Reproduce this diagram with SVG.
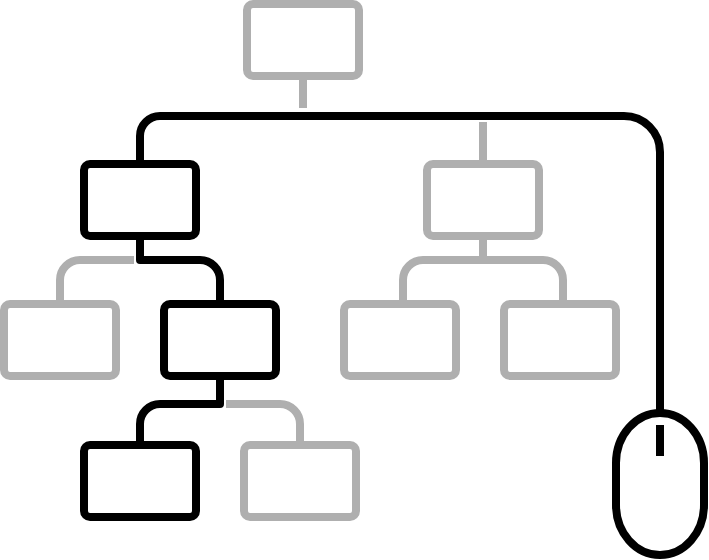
<svg xmlns="http://www.w3.org/2000/svg" width="709" height="560" viewBox="0 0 709 560">
<style>
.g{fill:#fff;stroke:#afafaf;stroke-width:8}
.k{fill:#fff;stroke:#000;stroke-width:8}
.lg{fill:none;stroke:#afafaf;stroke-width:8}
.lk{fill:none;stroke:#000;stroke-width:8}
rect{rx:6px;ry:6px}
</style>
<rect width="709" height="560" fill="#fff" style="rx:0;ry:0"/>
<g id="connectors">
<path class="lg" d="M303 80V108"/>
<path class="lg" d="M483 122V160"/>
<path class="lg" d="M134 260H80A20 20 0 0 0 60 280V300"/>
<path class="lg" d="M403 300V280A20 20 0 0 1 423 260H543A20 20 0 0 1 563 280V300M483 240V260"/>
<path class="lg" d="M226 404H280A20 20 0 0 1 300 424V441"/>
<path class="lk" d="M140 160V136A20 20 0 0 1 160 116H624A36 36 0 0 1 660 152V413"/>
<path class="lk" stroke-linejoin="round" d="M140 240V260H200A20 20 0 0 1 220 280V300"/>
<path class="lk" stroke-linejoin="round" d="M220 380V404H160A20 20 0 0 0 140 424V441"/>
</g>
<g id="node-top"><rect class="g" x="247" y="4" width="112" height="72"/></g>
<g id="node-a"><rect class="k" x="84" y="164" width="112" height="72"/></g>
<g id="node-b"><rect class="g" x="427" y="164" width="112" height="72"/></g>
<g id="node-a1"><rect class="g" x="4" y="304" width="112" height="72"/></g>
<g id="node-a2"><rect class="k" x="164" y="304" width="112" height="72"/></g>
<g id="node-b1"><rect class="g" x="344" y="304" width="112" height="72"/></g>
<g id="node-b2"><rect class="g" x="504" y="304" width="112" height="72"/></g>
<g id="node-c1"><rect class="k" x="84" y="445" width="112" height="72"/></g>
<g id="node-c2"><rect class="g" x="244" y="445" width="112" height="72"/></g>
<g id="mouse">
<rect class="k" x="616" y="413" width="88" height="142" style="rx:44px;ry:50px"/>
<path class="lk" d="M660 425V456"/>
</g>
</svg>
